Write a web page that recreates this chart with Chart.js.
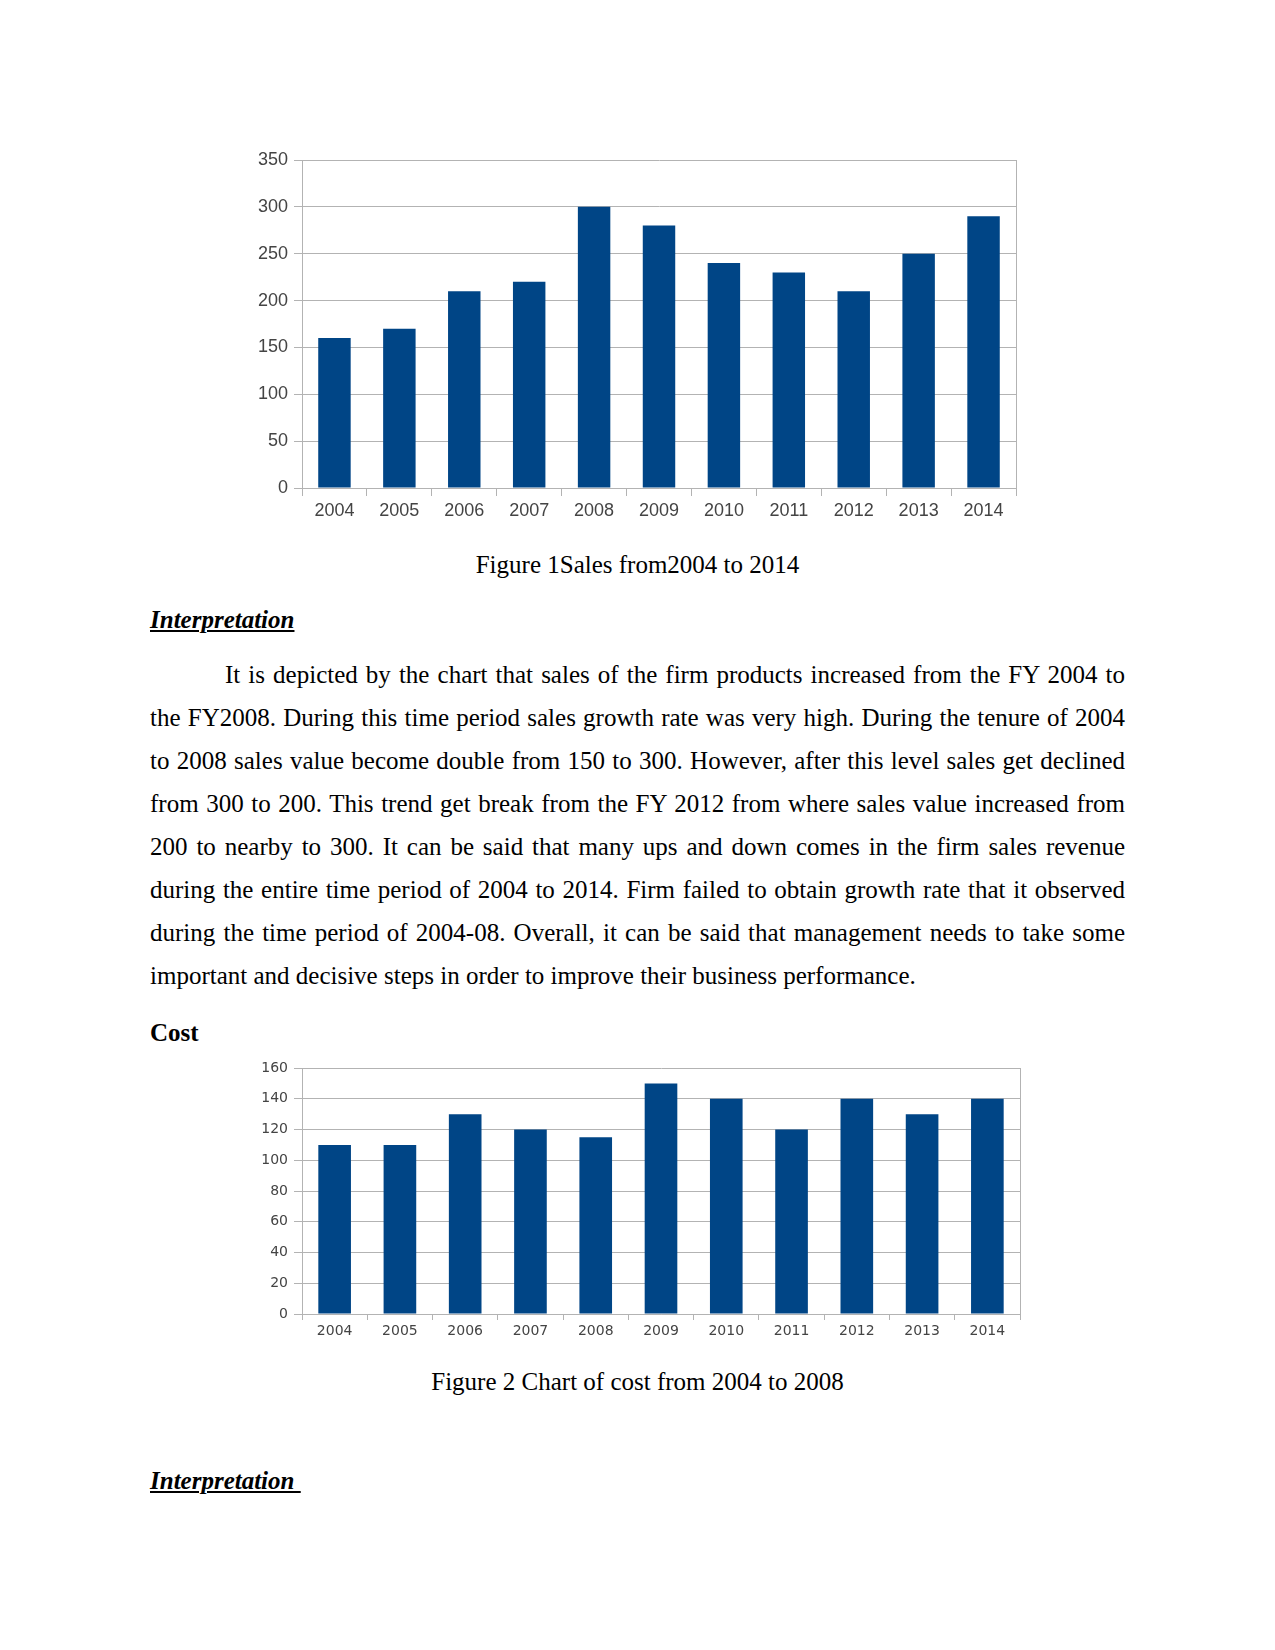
<!DOCTYPE html>
<html>
<head>
<meta charset="utf-8">
<script src="https://cdn.jsdelivr.net/npm/chart.js@4"></script>
<style>
  body { margin: 0; background: #fff; width: 1275px; height: 1650px; position: relative; font-family: "Liberation Serif", serif; color: #000; }
  .abs { position: absolute; }
  .cap { font-size: 25px; line-height: 28px; width: 1275px; left: 0; text-align: center; }
  .head { left: 150px; font-size: 25px; line-height: 28px; font-weight: bold; }
  .u { font-style: italic; text-decoration: underline; }
  .para { left: 150px; width: 975px; font-size: 25px; line-height: 43px; }
  .para div { text-align: justify; text-align-last: justify; }
  .para div.last { text-align-last: left; }
</style>
</head>
<body>
<div class="abs" style="left:230px;top:140px;width:820px;height:390px"><canvas id="salesChart"></canvas></div>
<div class="abs cap" style="top:551px">Figure 1Sales from2004 to 2014</div>
<div class="abs head u" style="top:606px">Interpretation</div>
<div class="abs para" style="top:653px">
  <div style="text-indent:75px">It is depicted by the chart that sales of the firm products increased from the FY 2004 to</div>
  <div>the FY2008. During this time period sales growth rate was very high. During the tenure of 2004</div>
  <div>to 2008 sales value become double from 150 to 300. However, after this level sales get declined</div>
  <div>from 300 to 200. This trend get break from the FY 2012 from where sales value increased from</div>
  <div>200 to nearby to 300. It can be said that many ups and down comes in the firm sales revenue</div>
  <div>during the entire time period of 2004 to 2014. Firm failed to obtain growth rate that it observed</div>
  <div>during the time period of 2004-08. Overall, it can be said that management needs to take some</div>
  <div class="last">important and decisive steps in order to improve their business performance.</div>
</div>
<div class="abs head" style="top:1019px">Cost</div>
<div class="abs" style="left:230px;top:1050px;width:820px;height:310px"><canvas id="costChart"></canvas></div>
<div class="abs cap" style="top:1368px">Figure 2 Chart of cost from 2004 to 2008</div>
<div class="abs head u" style="top:1467px">Interpretation&nbsp;</div>

<script>
  const years = ['2004', '2005', '2006', '2007', '2008', '2009', '2010', '2011', '2012', '2013', '2014'];
  const sales = [160, 170, 210, 220, 300, 280, 240, 230, 210, 250, 290];
  const cost = [110, 110, 130, 120, 115, 150, 140, 120, 140, 130, 140];
  const salesTicks = { max: 350, step: 50 };
  const costTicks = { max: 160, step: 20 };

  const barColor = '#004586';
  const gridColor = '#b3b3b3';

  // right-hand edge of the plot frame
  const frame = {
    id: 'frame',
    afterDraw(chart) {
      const a = chart.chartArea, ctx = chart.ctx;
      ctx.save();
      ctx.strokeStyle = gridColor;
      ctx.lineWidth = 1;
      ctx.beginPath();
      ctx.moveTo(a.right + 0.5, a.top);
      ctx.lineTo(a.right + 0.5, a.bottom);
      ctx.stroke();
      ctx.restore();
    }
  };

  function makeChart(id, values, yt, opt) {
    new Chart(document.getElementById(id), {
      type: 'bar',
      data: {
        labels: years,
        datasets: [{ data: values, backgroundColor: barColor, categoryPercentage: 1, barPercentage: 0.5 }]
      },
      options: {
        responsive: true,
        maintainAspectRatio: false,
        animation: false,
        layout: { padding: { top: opt.top, right: opt.right, left: 0, bottom: 0 } },
        plugins: { legend: { display: false }, tooltip: { enabled: false } },
        scales: {
          x: {
            grid: { offset: true, drawOnChartArea: false, color: gridColor, tickLength: opt.tickX },
            border: { color: gridColor },
            ticks: { color: '#444', padding: opt.padX, font: { family: opt.family, size: opt.font } },
            afterFit(s) { s.height = opt.xh; }
          },
          y: {
            min: 0, max: yt.max,
            grid: { color: gridColor, tickLength: 8 },
            border: { color: gridColor },
            ticks: { stepSize: yt.step, color: '#444', padding: 6, font: { family: opt.family, size: opt.font } },
            afterFit(s) { s.width = 72; }
          }
        }
      },
      plugins: [frame]
    });
  }

  makeChart('salesChart', sales, salesTicks, { top: 20, right: 34, xh: 42, tickX: 8, padX: 4, font: 18, family: 'Liberation Sans' });
  makeChart('costChart', cost, costTicks, { top: 18, right: 30, xh: 46, tickX: 6, padX: 3, font: 14, family: 'DejaVu Sans' });
</script>
</body>
</html>
